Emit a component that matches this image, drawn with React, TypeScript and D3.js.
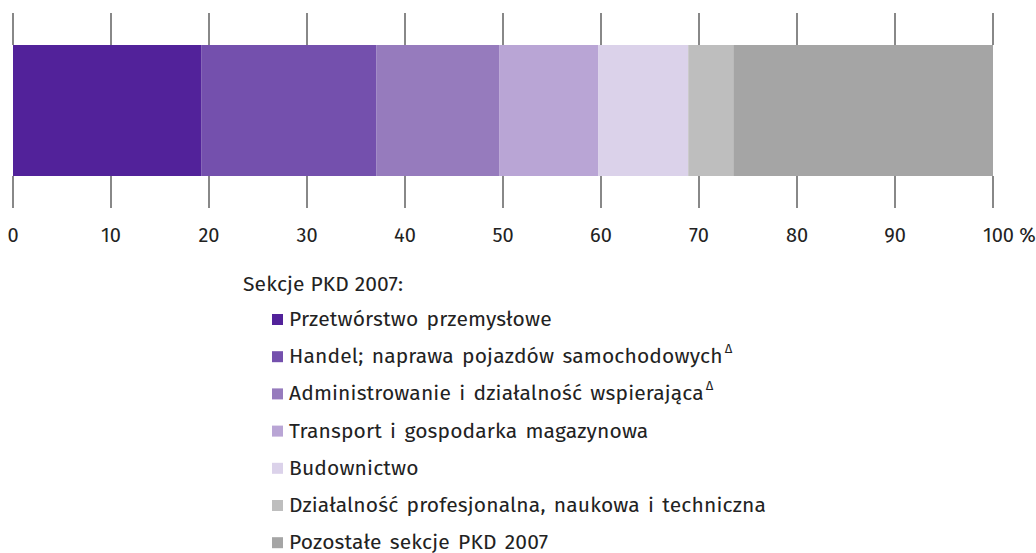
import { useEffect, useRef } from "react";
import * as d3 from "d3";

const categories = [
  "Przetwórstwo przemysłowe",
  "Handel; naprawa pojazdów samochodowych",
  "Administrowanie i działalność wspierająca",
  "Transport i gospodarka magazynowa",
  "Budownictwo",
  "Działalność profesjonalna, naukowa i techniczna",
  "Pozostałe sekcje PKD 2007",
];
const shares = [19.2, 17.9, 12.5, 10.1, 9.2, 4.6, 26.5];
const deltaMarks = [false, true, true, false, false, false, false];
const colors = ["#52229a", "#7450ad", "#967bbd", "#b9a5d5", "#dbd2ea", "#bebebe", "#a5a5a5"];
const tickValues = [0, 10, 20, 30, 40, 50, 60, 70, 80, 90, 100];
const legendTitle = "Sekcje PKD 2007:";

const W = 1036;
const H = 553;
const FONT = "'Fira Sans', 'Noto Sans', sans-serif";

export default function App() {
  const svgRef = useRef<SVGSVGElement | null>(null);

  useEffect(() => {
    const svg = d3.select(svgRef.current);
    svg.selectAll("*").remove();

    const x = d3.scaleLinear().domain([0, 100]).range([13, 993]);
    const barTop = 45;
    const barBottom = 176;

    // ticks above and below the bar
    const ticks = svg.append("g");
    tickValues.forEach((t) => {
      ticks.append("line")
        .attr("x1", x(t)).attr("x2", x(t))
        .attr("y1", 13).attr("y2", barTop)
        .attr("stroke", "#888").attr("stroke-width", 2);
      ticks.append("line")
        .attr("x1", x(t)).attr("x2", x(t))
        .attr("y1", barBottom).attr("y2", 208)
        .attr("stroke", "#888").attr("stroke-width", 2);
      ticks.append("text")
        .attr("x", x(t))
        .attr("y", 242)
        .attr("text-anchor", t === 100 ? "start" : "middle")
        .attr("dx", t === 100 ? -10 : 0)
        .attr("font-family", FONT)
        .attr("font-size", 20)
        .attr("fill", "#222")
        .text(t === 100 ? "100 %" : String(t));
    });

    // stacked segments
    const stops = d3.cumsum(shares);
    svg.append("g")
      .selectAll("rect")
      .data(shares)
      .join("rect")
      .attr("x", (_, i) => x(i === 0 ? 0 : stops[i - 1]))
      .attr("width", (d, i) => x(stops[i]) - x(i === 0 ? 0 : stops[i - 1]))
      .attr("y", barTop)
      .attr("height", barBottom - barTop)
      .attr("fill", (_, i) => colors[i]);

    // legend
    const legend = svg.append("g")
      .attr("font-family", FONT)
      .attr("fill", "#222")
      .attr("font-size", 21)
      .attr("letter-spacing", 0.15);
    legend.append("text")
      .attr("x", 243).attr("y", 291)
      .text(legendTitle);

    categories.forEach((name, i) => {
      const cy = 320 + i * 37.2;
      legend.append("rect")
        .attr("x", 272).attr("y", cy - 6)
        .attr("width", 11).attr("height", 11)
        .attr("fill", colors[i]);
      const txt = legend.append("text")
        .attr("x", 289).attr("y", cy + 6)
        .attr("word-spacing", 2.5);
      txt.append("tspan").text(name);
      if (deltaMarks[i]) {
        txt.append("tspan")
          .attr("dx", 2).attr("dy", -10)
          .attr("font-size", 13)
          .text("Δ");
      }
    });
  }, []);

  return (
    <svg
      ref={svgRef}
      width={W}
      height={H}
      style={{ position: "absolute", left: 0, top: 0, background: "#fff" }}
    />
  );
}
